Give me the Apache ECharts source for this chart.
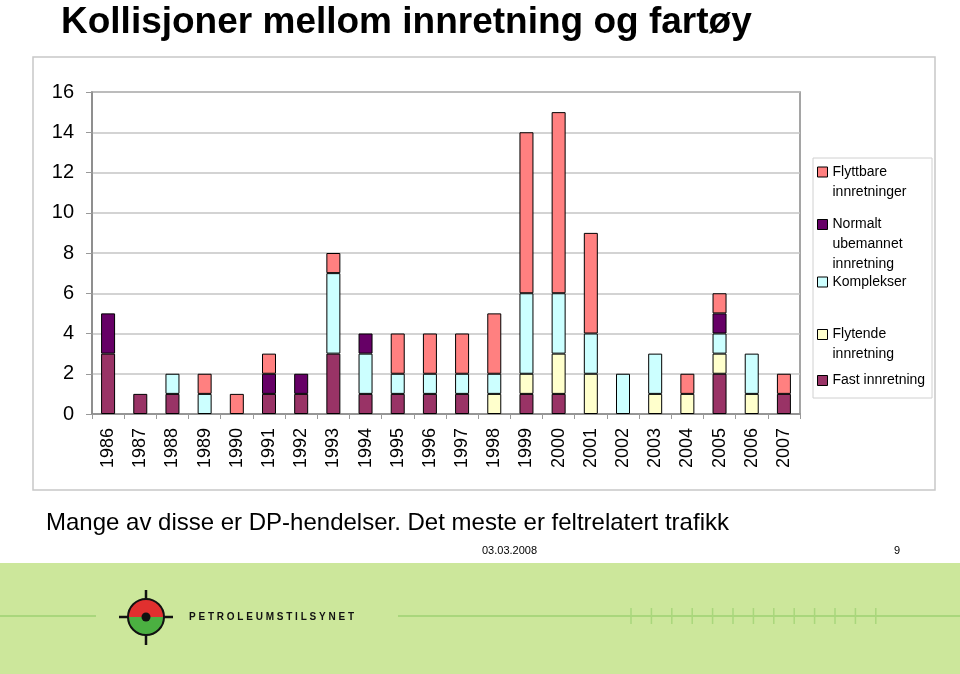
<!DOCTYPE html>
<html>
<head>
<meta charset="utf-8">
<title>Kollisjoner mellom innretning og fartøy</title>
<script src="https://cdn.jsdelivr.net/npm/echarts@6/dist/echarts.min.js"></script>
<style>
  html, body { margin: 0; padding: 0; background: #fff; }
  #chart { width: 960px; height: 674px; }
</style>
</head>
<body>
<div id="chart"></div>
<script>
// data
const years = ["1986", "1987", "1988", "1989", "1990", "1991", "1992", "1993", "1994", "1995", "1996",
  "1997", "1998", "1999", "2000", "2001", "2002", "2003", "2004", "2005", "2006", "2007"];
const fastInnretning     = [3, 1, 1, 0, 0, 1, 1, 3, 1, 1, 1, 1, 0, 1, 1, 0, 0, 0, 0, 2, 0, 1];
const flytendeInnretning = [0, 0, 0, 0, 0, 0, 0, 0, 0, 0, 0, 0, 1, 1, 2, 2, 0, 1, 1, 1, 1, 0];
const komplekser         = [0, 0, 1, 1, 0, 0, 0, 4, 2, 1, 1, 1, 1, 4, 3, 2, 2, 2, 0, 1, 2, 0];
const normaltUbemannet   = [2, 0, 0, 0, 0, 1, 1, 0, 1, 0, 0, 0, 0, 0, 0, 0, 0, 0, 0, 1, 0, 0];
const flyttbare          = [0, 0, 0, 1, 1, 1, 0, 1, 0, 2, 2, 2, 3, 8, 9, 5, 0, 0, 1, 1, 0, 1];

const FONT = "'Liberation Sans', Arial, sans-serif";

// bottom to top of each stack; leading blank lines keep the icon on the first text line
const seriesDefs = [
  { name: "Fast innretning", data: fastInnretning, color: "#993366", label: "Fast innretning", top: 370.5 },
  { name: "Flytende innretning", data: flytendeInnretning, color: "#FFFFCC", label: "\nFlytende\ninnretning", top: 304.5 },
  { name: "Komplekser", data: komplekser, color: "#CCFFFF", label: "Komplekser", top: 272 },
  { name: "Normalt ubemannet innretning", data: normaltUbemannet, color: "#660066", label: "\n\nNormalt\nubemannet\ninnretning", top: 174.5 },
  { name: "Flyttbare innretninger", data: flyttbare, color: "#FF8080", label: "\nFlyttbare\ninnretninger", top: 142 }
];

const chart = echarts.init(document.getElementById("chart"));

const legends = seriesDefs.map(function (s) {
  return {
    data: [s.name],
    left: 817,
    top: s.top,
    orient: "vertical",
    padding: 0,
    itemWidth: 10,
    itemHeight: 10,
    icon: "rect",
    itemStyle: { borderColor: "#000", borderWidth: 1 },
    formatter: function () { return s.label; },
    textStyle: { fontFamily: FONT, fontSize: 14, lineHeight: 20, color: "#000" }
  };
});

const series = seriesDefs.map(function (s) {
  return {
    name: s.name,
    type: "bar",
    stack: "total",
    barWidth: 14,
    data: s.data.map(function (v) { return v === 0 ? null : v; }),
    itemStyle: { color: s.color, borderColor: "#000", borderWidth: 1 }
  };
});

// tick marks on the green band line
const bandTicks = [];
for (let i = 0; i < 13; i++) {
  bandTicks.push({
    type: "line",
    shape: { x1: 631 + i * 20.4, y1: 608, x2: 631 + i * 20.4, y2: 624 },
    style: { stroke: "#a9d77c", lineWidth: 1.5 },
    z: 1
  });
}

const option = {
  backgroundColor: "#fff",
  animation: false,
  title: [
    {
      text: "Kollisjoner mellom innretning og fartøy",
      left: 61, top: 4, padding: 0,
      textStyle: { fontFamily: FONT, fontSize: 37, fontWeight: "bold", color: "#000" }
    },
    {
      text: "Mange av disse er DP-hendelser. Det meste er feltrelatert trafikk",
      left: 46, top: 511, padding: 0,
      textStyle: { fontFamily: FONT, fontSize: 24, fontWeight: "normal", color: "#000" }
    },
    {
      text: "03.03.2008",
      left: 482, top: 545, padding: 0,
      textStyle: { fontFamily: FONT, fontSize: 11, fontWeight: "normal", color: "#000" }
    },
    {
      text: "9",
      left: 894, top: 545, padding: 0,
      textStyle: { fontFamily: FONT, fontSize: 11, fontWeight: "normal", color: "#000" }
    }
  ],
  legend: legends,
  grid: {
    left: 92, right: 160, top: 92, bottom: 260,
    show: true, borderColor: "#888", borderWidth: 1.5, backgroundColor: "transparent"
  },
  xAxis: {
    type: "category",
    data: years,
    axisLine: { lineStyle: { color: "#888", width: 1.5 } },
    axisTick: { show: true, length: 5, lineStyle: { color: "#999" } },
    axisLabel: { rotate: 90, margin: 14, fontFamily: FONT, fontSize: 18, color: "#000" }
  },
  yAxis: {
    type: "value",
    min: 0, max: 16, interval: 2,
    axisLine: { show: true, lineStyle: { color: "#888", width: 1.5 } },
    axisTick: { show: true, length: 6, lineStyle: { color: "#999" } },
    axisLabel: { margin: 18, fontFamily: FONT, fontSize: 20, color: "#000" },
    splitLine: { lineStyle: { color: "#c4c4c4", width: 1.5 } }
  },
  series: series,
  graphic: [
    { type: "rect", shape: { x: 33, y: 57, width: 902, height: 433 },
      style: { fill: "none", stroke: "#c8c8c8", lineWidth: 1.5 }, z: -1, silent: true },
    { type: "rect", shape: { x: 813, y: 158, width: 119, height: 240 },
      style: { fill: "none", stroke: "#d0d0d0", lineWidth: 1 }, z: -1, silent: true },
    // green footer band
    { type: "rect", shape: { x: 0, y: 563, width: 960, height: 111 },
      style: { fill: "#cce79b" }, z: 0, silent: true },
    { type: "line", shape: { x1: 0, y1: 616, x2: 96, y2: 616 },
      style: { stroke: "#a9d77c", lineWidth: 2 }, z: 1 },
    { type: "line", shape: { x1: 398, y1: 616, x2: 960, y2: 616 },
      style: { stroke: "#a9d77c", lineWidth: 2 }, z: 1 }
  ].concat(bandTicks).concat([
    // logo
    { type: "line", shape: { x1: 119, y1: 617, x2: 173, y2: 617 },
      style: { stroke: "#111", lineWidth: 2.5 }, z: 2 },
    { type: "line", shape: { x1: 146, y1: 590, x2: 146, y2: 645 },
      style: { stroke: "#111", lineWidth: 2.5 }, z: 2 },
    { type: "sector", shape: { cx: 146, cy: 617, r0: 0, r: 18, startAngle: Math.PI, endAngle: Math.PI * 2 },
      style: { fill: "#e1302f" }, z: 3 },
    { type: "sector", shape: { cx: 146, cy: 617, r0: 0, r: 18, startAngle: 0, endAngle: Math.PI },
      style: { fill: "#4bb041" }, z: 3 },
    { type: "circle", shape: { cx: 146, cy: 617, r: 18 },
      style: { fill: "none", stroke: "#111", lineWidth: 2 }, z: 4 },
    { type: "circle", shape: { cx: 146, cy: 617, r: 4.5 },
      style: { fill: "#111" }, z: 4 },
    { type: "text", x: 189, y: 617,
      style: { text: "P E T R O L E U M S T I L S Y N E T", fill: "#111",
        font: "bold 10px " + FONT, textVerticalAlign: "middle" }, z: 4 }
  ])
};

chart.setOption(option);
</script>
</body>
</html>
